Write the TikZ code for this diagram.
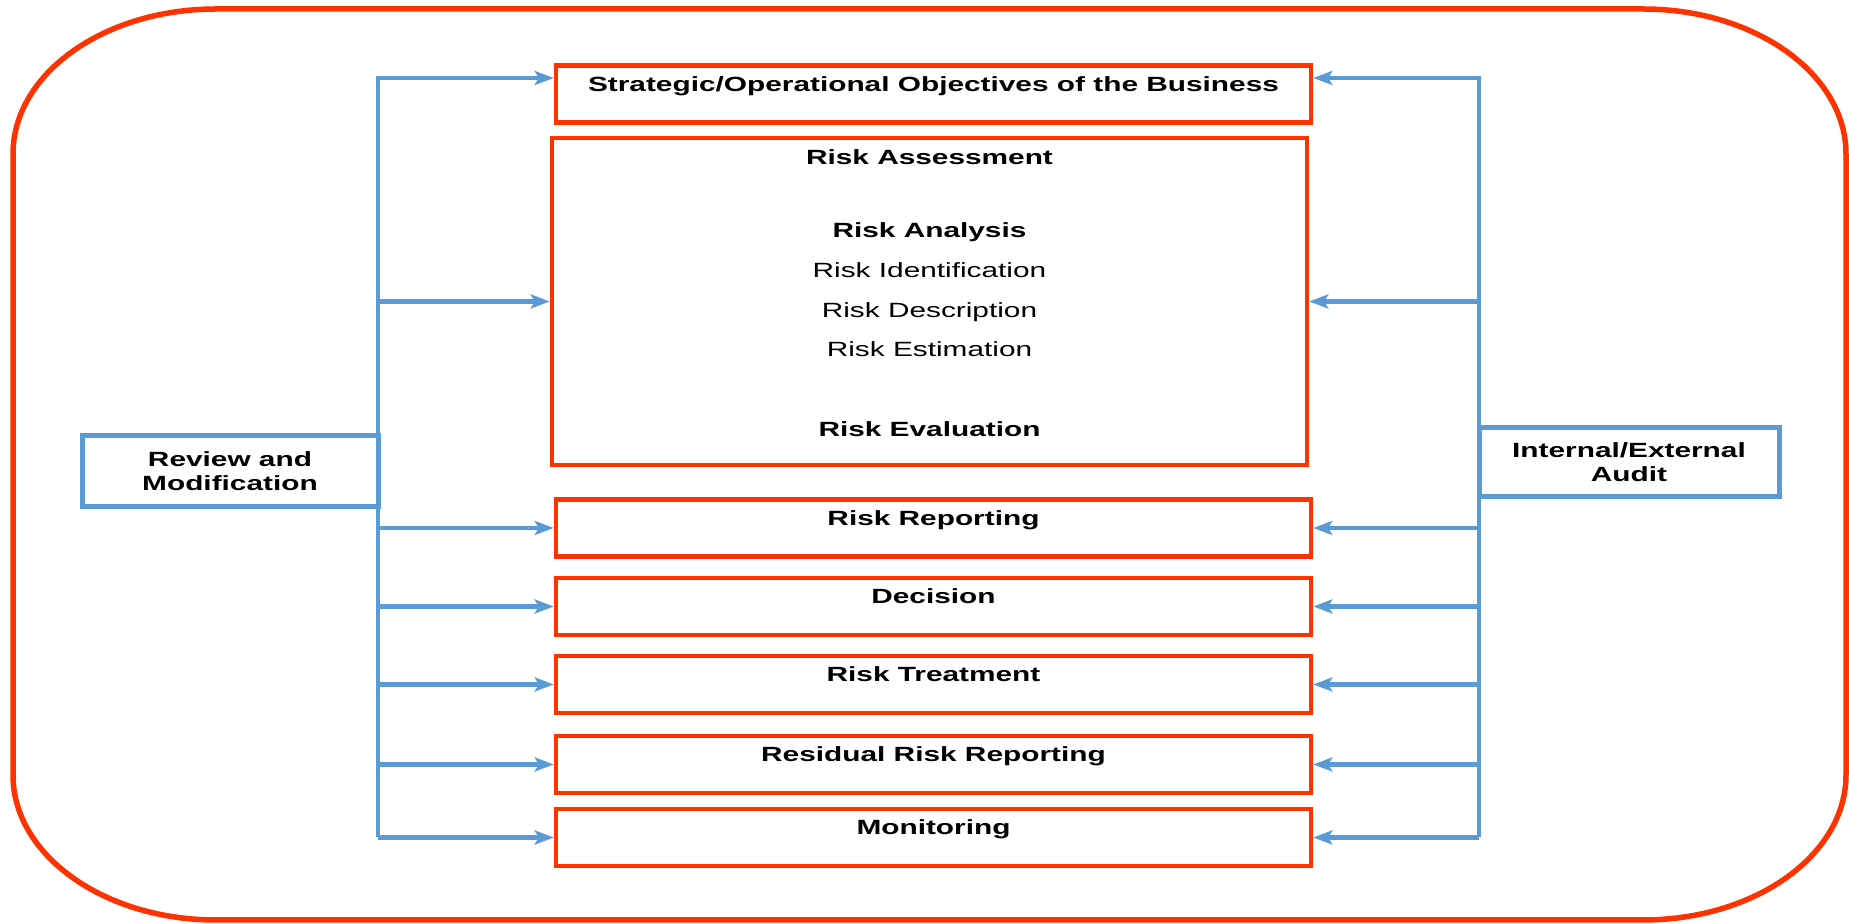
\documentclass[tikz,border=0pt]{standalone}
\usepackage{fontspec}
\setmainfont{Liberation Sans}[FakeStretch=1.45]
\usetikzlibrary{arrows.meta}

\definecolor{riskred}{HTML}{FF3300}
\definecolor{flowblue}{HTML}{5B9BD5}
\newcommand\diagfont{\fontsize{5.85pt}{11.35pt}\selectfont}

\tikzset{
  stage/.style={draw=riskred,line width=0.045cm,minimum width=7.55cm,inner xsep=0pt,
    inner ysep=0.11cm,text height=0.15cm,text depth=0.20cm,font=\diagfont\bfseries},
  sidebox/.style={draw=flowblue,line width=0.05cm,align=center,inner sep=0pt,
    font=\bfseries\fontsize{5.85pt}{6.9pt}\selectfont},
  flow/.style={draw=flowblue,line width=0.048cm,-{Stealth[length=0.19cm,width=0.14cm,inset=0.04cm]}},
}

\begin{document}
\begin{tikzpicture}[x=1cm,y=1cm,line join=miter]
  \useasboundingbox (0,0) rectangle (18.49,9.24);
  % outer frame, oval corners
  \draw[riskred,line width=0.055cm] (0.13,7.70) -- (0.13,1.49)
    arc[start angle=180,end angle=270,x radius=2.03,y radius=1.45] -- (16.43,0.04)
    arc[start angle=270,end angle=360,x radius=2.03,y radius=1.45] -- (18.46,7.70)
    arc[start angle=0,end angle=90,x radius=2.03,y radius=1.45] -- (2.16,9.15)
    arc[start angle=90,end angle=180,x radius=2.03,y radius=1.45] -- cycle;

  % process steps
  \node[stage] (strat) at (9.335,8.30) {Strategic/Operational Objectives of the Business};
  \node[draw=riskred,line width=0.045cm,minimum width=7.55cm,minimum height=3.27cm] (assess) at (9.295,6.225) {};
  \node[anchor=north,inner sep=0pt,align=center,font=\diagfont] (assesstxt) at ([yshift=-0.13cm]assess.north)
    {\textbf{Risk Assessment}\\[0.33cm] \textbf{Risk Analysis}\\ Risk Identification\\ Risk Description\\
     Risk Estimation\\[0.40cm] \textbf{Risk Evaluation}};
  \node[stage] (report) at (9.335,3.96) {Risk Reporting};
  \node[stage] (decide) at (9.335,3.175) {Decision};
  \node[stage] (treat) at (9.335,2.395) {Risk Treatment};
  \node[stage] (resid) at (9.335,1.595) {Residual Risk Reporting};
  \node[stage] (monit) at (9.335,0.865) {Monitoring};

  % feedback boxes
  \node[sidebox,minimum width=2.96cm,minimum height=0.71cm] (review) at (2.30,4.53) {Review and\\ Modification};
  \node[sidebox,minimum width=3.00cm,minimum height=0.69cm] (audit) at (16.29,4.62) {Internal/External\\ Audit};

  % left and right buses
  \coordinate (ltop) at (3.78,8.46);
  \coordinate (lbot) at (3.78,0.865);
  \coordinate (rtop) at (14.79,8.46);
  \coordinate (rbot) at (14.79,0.865);
  \draw[flow] (lbot) -- (ltop) -- (ltop -| strat.west);
  \draw[flow] (rbot) -- (rtop) -- (rtop -| strat.east);
  \foreach \n in {assess,report,decide,treat,resid,monit}{%
    \draw[flow] (ltop |- \n.west) -- (\n.west);
    \draw[flow] (rtop |- \n.east) -- (\n.east);
  }
\end{tikzpicture}
\end{document}
